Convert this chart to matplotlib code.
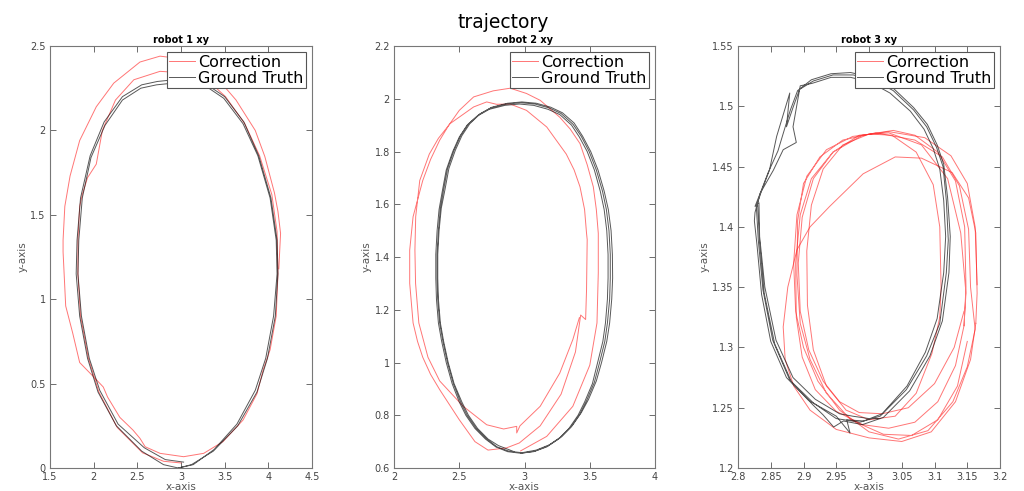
import numpy as np
import matplotlib
matplotlib.use("Agg")
import matplotlib.pyplot as plt
from matplotlib.ticker import FuncFormatter

plt.rcParams['font.family'] = 'DejaVu Sans'

# ---- robot 1 ----
r1_corr = [(4.12, 1.18), (4.14, 1.39), (4.11, 1.52), (4.07, 1.63), (3.96, 1.845), (3.85, 2.00),
           (3.63, 2.18), (3.43, 2.30), (3.22, 2.38), (2.99, 2.425), (2.76, 2.44), (2.53, 2.405),
           (2.23, 2.28), (2.03, 2.14), (1.84, 1.94), (1.73, 1.73), (1.67, 1.55), (1.65, 1.35),
           (1.65, 1.28), (1.68, 0.96), (1.76, 0.80), (1.84, 0.625), (2.00, 0.54), (2.11, 0.48),
           (2.16, 0.42), (2.30, 0.30), (2.45, 0.225), (2.53, 0.176), (2.59, 0.126), (2.76, 0.087),
           (3.03, 0.067), (3.26, 0.087), (3.48, 0.156), (3.71, 0.284), (3.87, 0.44), (3.94, 0.58),
           (4.02, 0.70), (4.09, 0.90), (4.11, 1.15), (4.10, 1.40), (4.04, 1.62), (3.90, 1.85),
           (3.73, 2.04), (3.51, 2.20), (3.30, 2.30), (3.05, 2.34), (2.76, 2.35), (2.46, 2.30),
           (2.25, 2.18), (2.10, 2.00), (2.03, 1.80), (1.93, 1.72), (1.87, 1.62), (1.84, 1.55),
           (1.82, 1.35), (1.82, 1.15), (1.85, 0.90), (1.94, 0.65), (2.06, 0.45), (2.27, 0.24),
           (2.56, 0.09), (2.80, 0.04), (3.00, 0.03)]
r1_gt = [(2.97, 0.00), (3.12, 0.02), (3.37, 0.10), (3.65, 0.25), (3.87, 0.45), (3.99, 0.65),
         (4.08, 0.90), (4.11, 1.15), (4.10, 1.35), (4.03, 1.60), (3.89, 1.85), (3.72, 2.05),
         (3.50, 2.20), (3.30, 2.27), (3.12, 2.29), (2.92, 2.30), (2.73, 2.29), (2.55, 2.27),
         (2.33, 2.20), (2.12, 2.05), (1.96, 1.85), (1.85, 1.60), (1.81, 1.35), (1.80, 1.15),
         (1.84, 0.90), (1.93, 0.65), (2.05, 0.45), (2.26, 0.25), (2.55, 0.10), (2.80, 0.02),
         (2.97, 0.00),
         (3.14, 0.02), (3.38, 0.11), (3.64, 0.26), (3.85, 0.46), (3.97, 0.65), (4.06, 0.90),
         (4.10, 1.15), (4.09, 1.35), (4.02, 1.60), (3.88, 1.85), (3.71, 2.04), (3.49, 2.19),
         (3.29, 2.26), (3.11, 2.28), (2.91, 2.28), (2.72, 2.27), (2.54, 2.25), (2.33, 2.18),
         (2.13, 2.03), (1.97, 1.84), (1.87, 1.60), (1.83, 1.35), (1.82, 1.15), (1.86, 0.90),
         (1.95, 0.65), (2.07, 0.46), (2.28, 0.26), (2.58, 0.12), (2.82, 0.05), (3.03, 0.035)]

# ---- robot 2 ----
r2_corr = [(2.97, 0.665), (3.17, 0.72), (3.37, 0.834), (3.50, 0.99), (3.555, 1.15), (3.565, 1.34),
           (3.565, 1.49), (3.55, 1.58), (3.527, 1.666), (3.48, 1.75), (3.425, 1.83), (3.35, 1.885),
           (3.27, 1.93), (3.12, 1.994), (3.015, 2.02), (2.89, 2.04), (2.76, 2.03), (2.61, 2.007),
           (2.50, 1.956), (2.42, 1.90), (2.35, 1.843), (2.28, 1.77), (2.22, 1.69), (2.146, 1.553),
           (2.12, 1.426), (2.12, 1.30), (2.146, 1.15), (2.18, 1.08), (2.22, 1.02), (2.28, 0.955),
           (2.35, 0.897), (2.50, 0.783), (2.62, 0.70), (2.72, 0.668), (2.86, 0.676), (2.96, 0.695),
           (3.12, 0.76), (3.28, 0.88), (3.39, 1.04), (3.43, 1.18), (3.468, 1.163), (3.475, 1.276),
           (3.48, 1.466), (3.475, 1.49), (3.46, 1.58), (3.425, 1.666), (3.38, 1.73), (3.32, 1.79),
           (3.17, 1.893), (3.015, 1.956), (2.89, 1.98), (2.785, 1.979), (2.71, 1.988), (2.61, 1.969),
           (2.43, 1.906), (2.34, 1.85), (2.27, 1.79), (2.197, 1.69), (2.166, 1.553), (2.16, 1.426),
           (2.165, 1.30), (2.19, 1.15), (2.26, 1.02), (2.35, 0.93), (2.53, 0.834), (2.71, 0.764),
           (2.84, 0.748), (2.94, 0.758), (2.94, 0.733), (2.965, 0.76), (3.12, 0.834), (3.27, 0.96),
           (3.37, 1.087), (3.42, 1.17)]
r2_gt = [(2.97, 0.656), (3.07, 0.662), (3.17, 0.68), (3.26, 0.71), (3.34, 0.75), (3.41, 0.80),
         (3.46, 0.85), (3.52, 0.92), (3.56, 1.00), (3.60, 1.08), (3.62, 1.15), (3.635, 1.24),
         (3.64, 1.32), (3.64, 1.41), (3.63, 1.50), (3.61, 1.58), (3.58, 1.65), (3.535, 1.73),
         (3.48, 1.80), (3.42, 1.855), (3.36, 1.90), (3.27, 1.94), (3.18, 1.96), (3.07, 1.975),
         (2.96, 1.98), (2.85, 1.975), (2.73, 1.96), (2.64, 1.935), (2.56, 1.90), (2.50, 1.855),
         (2.45, 1.80), (2.40, 1.73), (2.37, 1.65), (2.345, 1.58), (2.33, 1.50), (2.32, 1.41),
         (2.32, 1.32), (2.325, 1.24), (2.34, 1.15), (2.365, 1.08), (2.40, 1.00), (2.445, 0.92),
         (2.50, 0.85), (2.55, 0.80), (2.62, 0.75), (2.70, 0.71), (2.78, 0.68), (2.87, 0.662),
         (2.97, 0.656),
         (3.08, 0.664), (3.18, 0.684), (3.275, 0.715), (3.355, 0.755), (3.425, 0.805), (3.475, 0.855),
         (3.535, 0.925), (3.575, 1.00), (3.615, 1.08), (3.635, 1.15), (3.652, 1.24), (3.657, 1.32),
         (3.657, 1.41), (3.647, 1.50), (3.627, 1.58), (3.597, 1.65), (3.55, 1.73), (3.495, 1.80),
         (3.435, 1.857), (3.372, 1.903), (3.28, 1.944), (3.19, 1.965), (3.08, 1.98), (2.97, 1.985),
         (2.86, 1.98), (2.74, 1.965), (2.65, 1.94), (2.57, 1.905), (2.51, 1.86), (2.46, 1.805),
         (2.41, 1.735), (2.38, 1.655), (2.355, 1.585), (2.34, 1.50), (2.33, 1.41), (2.33, 1.32),
         (2.335, 1.24), (2.35, 1.15), (2.375, 1.08), (2.41, 1.00), (2.455, 0.92), (2.51, 0.85),
         (2.56, 0.80), (2.63, 0.75), (2.71, 0.71), (2.79, 0.68), (2.88, 0.664), (2.98, 0.658),
         (3.09, 0.668), (3.19, 0.688), (3.285, 0.72), (3.365, 0.76), (3.435, 0.81), (3.49, 0.86),
         (3.55, 0.93), (3.59, 1.00), (3.63, 1.08), (3.652, 1.15), (3.668, 1.24), (3.675, 1.32),
         (3.673, 1.41), (3.663, 1.50), (3.642, 1.58), (3.61, 1.65), (3.563, 1.73), (3.507, 1.80),
         (3.445, 1.858), (3.38, 1.908), (3.29, 1.947), (3.20, 1.968), (3.09, 1.983), (2.98, 1.988),
         (2.87, 1.983), (2.75, 1.968), (2.66, 1.943), (2.58, 1.905), (2.52, 1.86), (2.47, 1.805),
         (2.42, 1.735), (2.39, 1.655), (2.362, 1.585), (2.345, 1.50), (2.335, 1.41), (2.335, 1.32),
         (2.34, 1.24), (2.355, 1.15), (2.38, 1.08), (2.415, 1.00), (2.46, 0.92), (2.52, 0.85),
         (2.57, 0.80), (2.64, 0.75), (2.72, 0.71), (2.80, 0.685), (2.92, 0.662)]

# ---- robot 3 (correction loops kept apart) ----
r3_corr_a = [(3.165, 1.352), (3.162, 1.400), (3.150, 1.436), (3.125, 1.459), (3.085, 1.474), (3.030, 1.479),
             (2.975, 1.475), (2.935, 1.464), (2.905, 1.442), (2.890, 1.410), (2.885, 1.370), (2.888, 1.330),
             (2.900, 1.300), (2.922, 1.272), (2.955, 1.248), (3.000, 1.230), (3.045, 1.224), (3.090, 1.231),
             (3.128, 1.255), (3.150, 1.284), (3.162, 1.315),
             (3.155, 1.350), (3.152, 1.398), (3.138, 1.434), (3.112, 1.458), (3.070, 1.472), (3.010, 1.478),
             (2.960, 1.472), (2.925, 1.458), (2.900, 1.436), (2.891, 1.405), (2.890, 1.360), (2.895, 1.320),
             (2.910, 1.290), (2.935, 1.262), (2.972, 1.240), (3.022, 1.228), (3.065, 1.227), (3.105, 1.240),
             (3.135, 1.268), (3.150, 1.305)]
r3_corr_b = [(3.108, 1.325), (3.110, 1.350), (3.108, 1.400), (3.098, 1.435), (3.072, 1.462), (3.035, 1.476),
             (3.000, 1.477), (2.960, 1.468), (2.930, 1.448), (2.912, 1.418), (2.905, 1.380), (2.906, 1.335),
             (2.915, 1.298), (2.935, 1.268), (2.965, 1.248), (3.000, 1.240), (3.040, 1.243), (3.072, 1.262),
             (3.096, 1.295), (3.108, 1.325)]
r3_corr_c = [(3.163, 1.320), (3.165, 1.345), (3.163, 1.395), (3.152, 1.424), (3.127, 1.445), (3.080, 1.457),
             (3.040, 1.458), (2.991, 1.444), (2.940, 1.417), (2.910, 1.400), (2.890, 1.381), (2.876, 1.350),
             (2.869, 1.317), (2.872, 1.290), (2.885, 1.268), (2.910, 1.248), (2.950, 1.232), (3.000, 1.225),
             (3.050, 1.222), (3.095, 1.230), (3.132, 1.255), (3.155, 1.290), (3.163, 1.320)]
r3_corr_d = [(3.145, 1.318), (3.148, 1.350), (3.146, 1.400), (3.132, 1.438), (3.105, 1.462), (3.070, 1.476),
             (3.037, 1.480), (2.990, 1.476), (2.945, 1.462), (2.912, 1.440), (2.895, 1.410), (2.888, 1.370),
             (2.889, 1.325), (2.898, 1.292), (2.918, 1.265), (2.950, 1.247), (2.990, 1.236), (3.030, 1.233),
             (3.070, 1.238), (3.105, 1.255), (3.132, 1.285), (3.145, 1.318),
             (3.148, 1.345), (3.140, 1.395), (3.120, 1.440), (3.080, 1.468), (3.030, 1.478), (2.985, 1.476),
             (2.945, 1.462), (2.915, 1.440), (2.898, 1.408), (2.892, 1.370), (2.895, 1.330), (2.908, 1.298),
             (2.930, 1.272), (2.955, 1.255), (2.985, 1.246), (3.020, 1.245), (3.060, 1.250), (3.100, 1.270),
             (3.130, 1.300), (3.145, 1.330)]
r3_gt = [(2.828, 1.417), (2.831, 1.389), (2.838, 1.348), (2.853, 1.306), (2.879, 1.273), (2.915, 1.254),
         (2.950, 1.241), (2.986, 1.238), (3.017, 1.243), (3.057, 1.265), (3.088, 1.293), (3.108, 1.320),
         (3.118, 1.362), (3.121, 1.389), (3.118, 1.422), (3.113, 1.450), (3.103, 1.466), (3.088, 1.483),
         (3.068, 1.497), (3.037, 1.513), (3.006, 1.522), (2.976, 1.526), (2.945, 1.526), (2.915, 1.521),
         (2.894, 1.514), (2.884, 1.499), (2.874, 1.483), (2.879, 1.511), (2.859, 1.475), (2.848, 1.447),
         (2.836, 1.430), (2.828, 1.417),
         (2.830, 1.418), (2.833, 1.388), (2.840, 1.345), (2.856, 1.303), (2.882, 1.271), (2.915, 1.252),
         (2.930, 1.244), (2.946, 1.234), (2.961, 1.239), (2.990, 1.236), (3.022, 1.242), (3.062, 1.264),
         (3.093, 1.293), (3.112, 1.322), (3.122, 1.362), (3.124, 1.392), (3.120, 1.424), (3.114, 1.452),
         (3.104, 1.468), (3.089, 1.485), (3.068, 1.499), (3.037, 1.515), (3.004, 1.524), (2.972, 1.528),
         (2.942, 1.527), (2.912, 1.522), (2.891, 1.513), (2.880, 1.497), (2.871, 1.481), (2.861, 1.463),
         (2.846, 1.445), (2.834, 1.428), (2.826, 1.412),
         (2.825, 1.405), (2.829, 1.385), (2.836, 1.344), (2.850, 1.305), (2.874, 1.275), (2.908, 1.256),
         (2.950, 1.243), (2.971, 1.229), (2.966, 1.240), (2.992, 1.239), (3.020, 1.245), (3.058, 1.268),
         (3.086, 1.296), (3.104, 1.324), (3.114, 1.362), (3.117, 1.392), (3.114, 1.422), (3.108, 1.448),
         (3.098, 1.465), (3.084, 1.481), (3.063, 1.496), (3.032, 1.511), (3.002, 1.520), (2.972, 1.524),
         (2.942, 1.524), (2.913, 1.519), (2.895, 1.517), (2.884, 1.483), (2.889, 1.470), (2.869, 1.464),
         (2.854, 1.447), (2.834, 1.428), (2.826, 1.417),
         (2.832, 1.420), (2.833, 1.392), (2.841, 1.350), (2.858, 1.306), (2.884, 1.275), (2.918, 1.257),
         (2.955, 1.245), (2.975, 1.243), (3.000, 1.241), (3.017, 1.241)]

r1_xticks = [1.5, 2, 2.5, 3, 3.5, 4, 4.5]
r1_yticks = [0, 0.5, 1, 1.5, 2, 2.5]
r2_xticks = [2, 2.5, 3, 3.5, 4]
r2_yticks = [0.6, 0.8, 1, 1.2, 1.4, 1.6, 1.8, 2, 2.2]
r3_xticks = [2.8, 2.85, 2.9, 2.95, 3, 3.05, 3.1, 3.15, 3.2]
r3_yticks = [1.2, 1.25, 1.3, 1.35, 1.4, 1.45, 1.5, 1.55]

corr_color = '#ff1a1a'
gt_color = '#111111'
grey = '#555555'


def plot_robot(rect, corr_list, gt, title, xticks, yticks):
    ax = fig.add_axes(rect)
    for i, corr in enumerate(corr_list):
        c = np.array(corr)
        ax.plot(c[:, 0], c[:, 1], color=corr_color, lw=0.7, alpha=0.6,
                label='Correction' if i == 0 else None)
    g = np.array(gt)
    ax.plot(g[:, 0], g[:, 1], color=gt_color, lw=0.7, alpha=0.7, label='Ground Truth')
    ax.set_xlim(xticks[0], xticks[-1])
    ax.set_ylim(yticks[0], yticks[-1])
    ax.set_xticks(xticks)
    ax.set_yticks(yticks)
    fmt = FuncFormatter(lambda v, _: f'{v:g}')
    ax.xaxis.set_major_formatter(fmt)
    ax.yaxis.set_major_formatter(fmt)
    ax.tick_params(direction='in', length=4, width=0.6, color=grey, labelsize=7,
                   labelcolor='#444444', top=True, right=True, pad=3)
    for s in ax.spines.values():
        s.set_color('#777777')
        s.set_linewidth(0.8)
    ax.set_title(title, fontsize=7, fontweight='bold', pad=2)
    ax.set_xlabel('x-axis', fontsize=7.5, color=grey, labelpad=0)
    ax.set_ylabel('y-axis', fontsize=7.5, color=grey, labelpad=2)
    leg = ax.legend(loc='upper right', fontsize=11.5, fancybox=False, framealpha=1,
                    edgecolor='#555555', handlelength=1.6, handletextpad=0.2,
                    labelspacing=0.05, borderpad=0.15, borderaxespad=0.4)
    leg.get_frame().set_linewidth(0.8)
    return ax


fig = plt.figure(figsize=(10.24, 4.91), dpi=100)
plot_robot([0.0488, 0.0468, 0.2559, 0.8595], [r1_corr], r1_gt, 'robot 1 xy', r1_xticks, r1_yticks)
plot_robot([0.3848, 0.0468, 0.2549, 0.8595], [r2_corr], r2_gt, 'robot 2 xy', r2_xticks, r2_yticks)
plot_robot([0.7207, 0.0468, 0.2559, 0.8595], [r3_corr_a, r3_corr_b, r3_corr_c, r3_corr_d], r3_gt,
           'robot 3 xy', r3_xticks, r3_yticks)
fig.text(0.491, 0.955, 'trajectory', ha='center', va='center', fontsize=13.5)

fig.savefig('out.png', dpi=100)
